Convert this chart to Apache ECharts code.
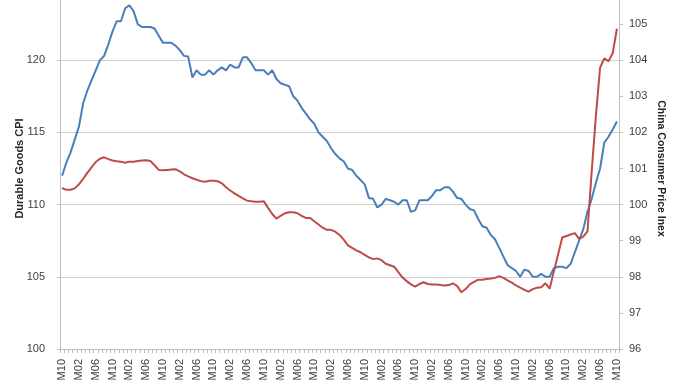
<!DOCTYPE html>
<html>
<head>
<meta charset="utf-8">
<script src="https://cdn.jsdelivr.net/npm/echarts@6/dist/echarts.min.js"></script>
<style>
html,body{margin:0;padding:0;background:#fff;}
#chart{width:678px;height:381px;}
</style>
</head>
<body>
<div id="chart"></div>
<script>
// Category labels: monthly from 2011M10 to 2022M10 (133 months)
const startYear = 2011, startMonth = 10, monthCount = 133;
const categories = [];
for (let k = 0; k < monthCount; k++) {
  const m0 = startMonth - 1 + k;
  const y = startYear + Math.floor(m0 / 12);
  const m = (m0 % 12) + 1;
  categories.push(y + 'M' + (m < 10 ? '0' + m : '' + m));
}

// Durable Goods CPI (left axis)
const durableGoodsCPI = [
112.0,112.9,113.6,114.5,115.4,117.0,117.9,118.6,119.3,120.0,
120.3,121.1,122.0,122.7,122.7,123.6,123.8,123.4,122.5,122.3,
122.3,122.3,122.2,121.7,121.2,121.2,121.2,121.0,120.7,120.3,
120.25,118.8,119.3,119.0,119.0,119.3,119.0,119.3,119.5,119.3,
119.7,119.5,119.5,120.2,120.2,119.8,119.3,119.3,119.3,119.0,
119.3,118.7,118.4,118.3,118.2,117.5,117.2,116.7,116.3,115.9,
115.6,115.0,114.7,114.4,113.9,113.5,113.2,113.0,112.5,112.4,
112.0,111.7,111.4,110.45,110.4,109.8,110.0,110.4,110.3,110.2,
110.0,110.3,110.3,109.5,109.6,110.3,110.3,110.3,110.6,111.0,
111.0,111.2,111.2,110.9,110.45,110.4,110.0,109.7,109.6,109.0,
108.5,108.4,107.9,107.6,107.0,106.4,105.8,105.6,105.4,105.0,
105.5,105.4,105.0,105.0,105.2,105.0,105.0,105.6,105.7,105.7,
105.6,105.9,106.7,107.5,108.3,109.5,110.4,111.5,112.5,114.3,
114.7,115.2,115.75
];

// China Consumer Price Index (right axis)
const chinaCPI = [
100.46,100.41,100.41,100.45,100.56,100.71,100.88,101.03,101.18,101.27,
101.31,101.26,101.22,101.20,101.19,101.16,101.19,101.19,101.21,101.22,
101.23,101.21,101.09,100.96,100.95,100.96,100.97,100.98,100.92,100.84,
100.78,100.73,100.69,100.65,100.63,100.66,100.66,100.65,100.59,100.48,
100.39,100.31,100.24,100.17,100.11,100.09,100.08,100.08,100.09,99.91,
99.74,99.61,99.69,99.76,99.79,99.79,99.76,99.69,99.63,99.63,
99.54,99.45,99.36,99.30,99.30,99.25,99.16,99.03,98.87,98.80,
98.73,98.68,98.61,98.54,98.49,98.51,98.46,98.36,98.32,98.28,
98.13,97.98,97.88,97.79,97.73,97.80,97.85,97.80,97.79,97.79,
97.77,97.76,97.77,97.82,97.74,97.57,97.66,97.79,97.86,97.92,
97.92,97.94,97.95,97.97,98.02,97.97,97.90,97.84,97.76,97.70,
97.64,97.59,97.66,97.70,97.71,97.82,97.67,98.15,98.62,99.09,
99.13,99.17,99.21,99.05,99.11,99.26,100.91,102.46,103.79,104.05,
103.97,104.19,104.87
];

const leftAxisName = 'Durable Goods CPI';
const rightAxisName = 'China Consumer Price Inex';

const FONT = 'Liberation Sans';
const chart = echarts.init(document.getElementById('chart'), null, {renderer: 'canvas'});
chart.setOption({
  animation: false,
  backgroundColor: '#ffffff',
  grid: {left: 60, right: 59, top: -12, bottom: 32, containLabel: false, outerBoundsMode: 'none'},
  xAxis: {
    type: 'category',
    data: categories,
    boundaryGap: true,
    axisLine: {show: true, lineStyle: {color: '#bfbfbf', width: 1}},
    axisTick: {show: true, interval: 0, length: 4, lineStyle: {color: '#bfbfbf'}},
    axisLabel: {rotate: 90, interval: 3, fontSize: 11, fontFamily: FONT, color: '#404040', margin: 10},
    splitLine: {show: false}
  },
  yAxis: [
    {
      type: 'value', min: 100, max: 125, interval: 5, position: 'left',
      name: leftAxisName, nameLocation: 'middle', nameGap: 35, nameMoveOverlap: false,
      nameTextStyle: {fontSize: 11, fontWeight: 'bold', fontFamily: FONT, color: '#262626'},
      axisLine: {show: true, lineStyle: {color: '#bfbfbf'}},
      axisTick: {show: true, length: 3, lineStyle: {color: '#bfbfbf'}},
      axisLabel: {fontSize: 11, fontFamily: FONT, color: '#404040', margin: 15},
      splitLine: {show: true, lineStyle: {color: '#d0d0d0', width: 1}}
    },
    {
      type: 'value', min: 96, max: 106, interval: 1, position: 'right',
      name: rightAxisName, nameLocation: 'middle', nameGap: 36, nameRotate: -90, nameMoveOverlap: false,
      nameTextStyle: {fontSize: 10.5, fontWeight: 'bold', fontFamily: FONT, color: '#262626'},
      axisLine: {show: true, lineStyle: {color: '#bfbfbf'}},
      axisTick: {show: true, length: 4, lineStyle: {color: '#bfbfbf'}},
      axisLabel: {fontSize: 11, fontFamily: FONT, color: '#404040', margin: 10},
      splitLine: {show: false}
    }
  ],
  series: [
    {
      name: leftAxisName, type: 'line', yAxisIndex: 0, data: durableGoodsCPI,
      showSymbol: false, symbol: 'none', smooth: false,
      lineStyle: {color: '#4a7ebb', width: 2}, itemStyle: {color: '#4a7ebb'}, z: 3
    },
    {
      name: rightAxisName, type: 'line', yAxisIndex: 1, data: chinaCPI,
      showSymbol: false, symbol: 'none', smooth: false,
      lineStyle: {color: '#be4b48', width: 2}, itemStyle: {color: '#be4b48'}, z: 3
    }
  ]
});
</script>
</body>
</html>
